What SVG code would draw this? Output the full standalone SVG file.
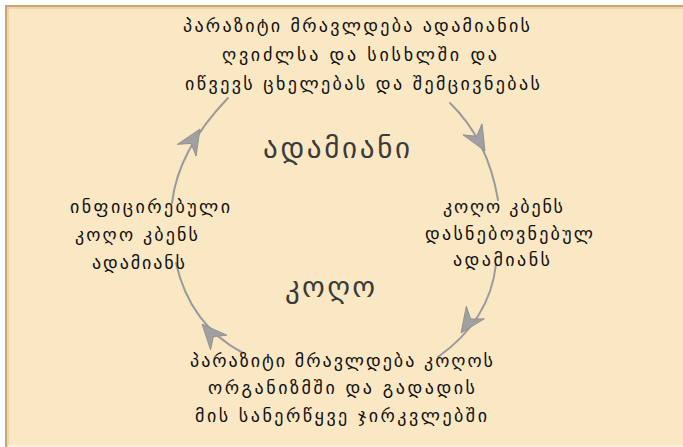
<svg xmlns="http://www.w3.org/2000/svg" width="683" height="447" viewBox="0 0 683 447">
<defs>
<style>
.t{font-family:"DejaVu Sans",sans-serif;font-size:18px;fill:#111;}
.big{font-family:"DejaVu Sans",sans-serif;font-size:29px;fill:#3a3a3a;}
.arc{fill:none;stroke:#9a9a9a;stroke-width:2;stroke-linecap:round;}
.hd{fill:#a0a0a0;stroke:#8c8c8c;stroke-width:0.8;}
</style>
<path id="head" d="M0,0 L-25,-11 L-17,0 L-25,11 Z"/>
</defs>
<rect x="0" y="0" width="683" height="447" fill="#ffffff"/>
<rect x="5" y="5" width="678" height="442" fill="#FAE7C3"/>
<path d="M5,6 H683 M6,5 V447" stroke="#CBA677" stroke-width="2" fill="none"/>
<path d="M7,8 H683 M8,7 V447" stroke="#E9CFA0" stroke-width="1.5" fill="none"/>
<rect x="8" y="445" width="675" height="2" fill="#FCF0D6"/>

<g id="connectors">
<path class="arc" d="M172,203 Q178,150 228,98"/>
<use href="#head" class="hd" transform="translate(200,129) rotate(-58)"/>
<path class="arc" d="M450,103 Q488,140 498,200"/>
<use href="#head" class="hd" transform="translate(485,151) rotate(60)"/>
<path class="arc" d="M496,264 Q490,320 438,357"/>
<use href="#head" class="hd" transform="translate(461,333) rotate(125)"/>
<path class="arc" d="M176,263 Q190,325 243,353"/>
<use href="#head" class="hd" transform="translate(202,324) rotate(-132)"/>
</g>

<g id="node-top">
<text class="t" x="183" y="32" textLength="347" lengthAdjust="spacing">პარაზიტი მრავლდება ადამიანის</text>
<text class="t" x="222" y="61" textLength="275" lengthAdjust="spacing">ღვიძლსა და სისხლში და</text>
<text class="t" x="185" y="90" textLength="355" lengthAdjust="spacing">იწვევს ცხელებას და შემცივნებას</text>
</g>

<g id="node-human">
<text class="big" x="263" y="158" textLength="147" lengthAdjust="spacing">ადამიანი</text>
</g>

<g id="node-left">
<text class="t" x="70" y="213" textLength="160" lengthAdjust="spacing">ინფიცირებული</text>
<text class="t" x="75" y="241" textLength="123" lengthAdjust="spacing">კოღო კბენს</text>
<text class="t" x="92" y="269" textLength="93" lengthAdjust="spacing">ადამიანს</text>
</g>

<g id="node-right">
<text class="t" x="443" y="213" textLength="120" lengthAdjust="spacing">კოღო კბენს</text>
<text class="t" x="425" y="240" textLength="168" lengthAdjust="spacing">დასნებოვნებულ</text>
<text class="t" x="453" y="266" textLength="97" lengthAdjust="spacing">ადამიანს</text>
</g>

<g id="node-mosquito">
<text class="big" x="285" y="297" textLength="90" lengthAdjust="spacing">კოღო</text>
</g>

<g id="node-bottom">
<text class="t" x="190" y="367" textLength="303" lengthAdjust="spacing">პარაზიტი მრავლდება კოღოს</text>
<text class="t" x="208" y="394" textLength="267" lengthAdjust="spacing">ორგანიზმში და გადადის</text>
<text class="t" x="195" y="422" textLength="292" lengthAdjust="spacing">მის სანერწყვე ჯირკვლებში</text>
</g>
</svg>
